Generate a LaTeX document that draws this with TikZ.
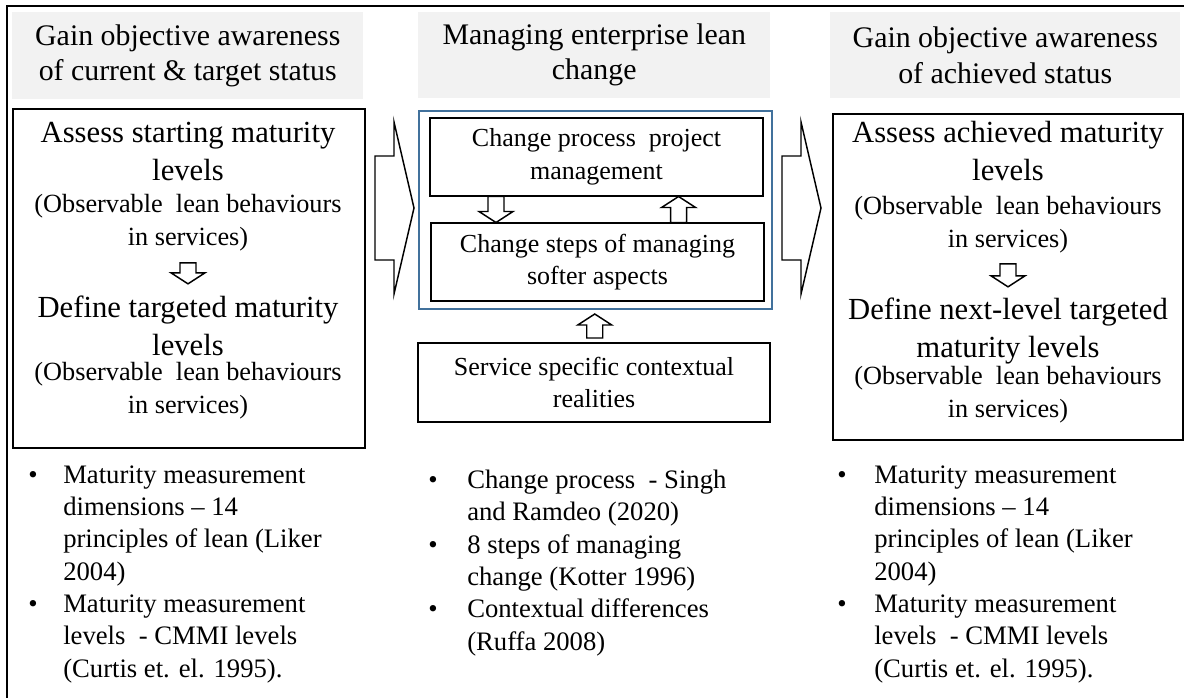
\documentclass[tikz,border=0pt]{standalone}
\usepackage{fontspec}
\setmainfont{Liberation Serif}
\usetikzlibrary{calc}
\usetikzlibrary{positioning}

\definecolor{hdrgray}{HTML}{F2F2F2}
\definecolor{frameblue}{HTML}{41719C}

\newcommand{\hdrfont}{\fontsize{22.4}{26.3}\selectfont}
\newcommand{\bigfont}{\fontsize{23}{28}\selectfont}
\newcommand{\subfont}{\fontsize{19.7}{24.2}\selectfont}
\newcommand{\midfont}{\fontsize{19.5}{24.5}\selectfont}
\newcommand{\lstfont}{\fontsize{20}{24.2}\selectfont}
\newcommand{\bul}[1]{\makebox[#1][l]{\textbullet}}

% block arrows (centre point, length)
\newcommand{\downblk}[2]{\draw[blk] #1 ++(-8,-#2/2) -- ++(16,0) -- ++(0,#2-11) -- ++(9,0) -- ++(-17,11) -- ++(-17,-11) -- ++(9,0) -- cycle;}
\newcommand{\upblk}[2]{\draw[blk] #1 ++(-8,#2/2) -- ++(16,0) -- ++(0,-#2+11) -- ++(9,0) -- ++(-17,-11) -- ++(-17,11) -- ++(9,0) -- cycle;}
% big arrow (tail point)
\newcommand{\bigblk}[1]{\draw[blk] #1 ++(0,-52) -- ++(19,0) -- ++(0,-34) -- ++(20,86) -- ++(-20,86) -- ++(0,-34) -- ++(-19,0) -- cycle;}

\begin{document}
\begin{tikzpicture}[x=0.75pt,y=-0.75pt,
	hdr/.style={fill=hdrgray, anchor=north west, inner sep=0pt, align=center, font=\hdrfont},
	box/.style={draw, line width=1.5pt, anchor=north west, inner sep=0pt},
	txt/.style={align=center, inner sep=0pt, anchor=base},
	blk/.style={draw, line width=1.1pt, fill=white, line join=miter},
	lst/.style={align=left, inner sep=0pt, anchor=base west, font=\lstfont}]
	
	\useasboundingbox (0,0) rectangle (1184,697);
	\clip (0,0) rectangle (1184,697);
	
	% outer frame
	\draw[line width=1.5pt] (7,6) rectangle (1210,720);
	
	% headers
	\node[hdr, minimum width=263.25pt, minimum height=65.25pt] (lhdr) at (12,12) {Gain objective awareness\\of current \& target status};
	\node[hdr, minimum width=264pt, minimum height=64.5pt] (mhdr) at (418,12) {Managing enterprise lean\\change};
	\node[hdr, minimum width=262.5pt, minimum height=64.5pt] (rhdr) at (830,12) {Gain objective awareness\\of achieved status};
	
	% left box (text nodes sit on their last baseline)
	\node[box, minimum width=264pt, minimum height=254.25pt] (lbox) at (12,108) {};
	\node[txt, font=\bigfont] (la1) at (188,180) {Assess starting maturity\\levels};
	\node[txt, font=\subfont] (la2) at (188,245) {(Observable\ \ lean behaviours\\in services)};
	\node[txt, font=\bigfont] (ld1) at (188,355) {Define targeted maturity\\levels};
	\node[txt, font=\subfont] (ld2) at (188,413) {(Observable\ \ lean behaviours\\in services)};
	\downblk{($(la2.south)!0.5!(ld1.north)$)}{21}
	
	% middle part
	\node[box, draw=frameblue, line width=1.5pt, minimum width=264.75pt, minimum height=148.5pt] (mblue) at (418,110) {};
	\node[box, minimum width=249.75pt, minimum height=58.5pt, align=center, font=\midfont] (mb1) at (429,117) {Change process\ \ project\\management};
	\node[box, minimum width=249.75pt, minimum height=58.5pt, align=center, font=\midfont] (mb2) at (430,222) {Change steps of managing\\softer aspects};
	\node[box, minimum width=264pt, minimum height=59.25pt, align=center, font=\midfont] (svc) at (417,342) {Service specific contextual\\realities};
	
	\coordinate (d1) at ($(mb1.south west)!0.2!(mb1.south east)$);
	\coordinate (u1) at ($(mb1.south west)!0.745!(mb1.south east)$);
	\downblk{($(d1)!0.5!(d1 |- mb2.north)$)}{26}
	\upblk{($(u1)!0.5!(u1 |- mb2.north)$)}{26}
	\upblk{($(mblue.south)!0.5!(svc.north)$)}{24}
	
	% right box
	\node[box, minimum width=262.5pt, minimum height=244.5pt] (rbox) at (832,113) {};
	\node[txt, font=\bigfont] (ra1) at (1008,180) {Assess achieved maturity\\levels};
	\node[txt, font=\subfont] (ra2) at (1008,247) {(Observable\ \ lean behaviours\\in services)};
	\node[txt, font=\bigfont] (rd1) at (1008,357) {Define next-level targeted\\maturity levels};
	\node[txt, font=\subfont] (rd2) at (1008,417) {(Observable\ \ lean behaviours\\in services)};
	\downblk{($(ra2.south)!0.5!(rd1.north)$)}{23}
	
	% big arrows between the parts
	\coordinate (t1) at ($(lbox.east |- mblue.west)+(9,-2)$);
	\coordinate (t2) at ($(mblue.east)+(9,-2)$);
	\bigblk{(t1)}
	\bigblk{(t2)}
	
	% lists of sources
	\node[lst] (llst) at (28,677) {\bul{26.25pt}Maturity measurement\\\hspace*{26.25pt}dimensions\ -- 14\\\hspace*{26.25pt}principles of lean (Liker\\\hspace*{26.25pt}2004)\\\bul{26.25pt}Maturity measurement\\\hspace*{26.25pt}levels\ \ - CMMI levels\\\hspace*{26.25pt}(Curtis et. el. 1995).};
	\node[lst] (mlst) at (428,650) {\bul{29.25pt}Change process\ \ - Singh\\\hspace*{29.25pt}and Ramdeo (2020)\\\bul{29.25pt}8 steps of managing\\\hspace*{29.25pt}change (Kotter 1996)\\\bul{29.25pt}Contextual differences\\\hspace*{29.25pt}(Ruffa 2008)};
	\node[lst] (rlst) at (837,677) {\bul{27.75pt}Maturity measurement\\\hspace*{27.75pt}dimensions\ -- 14\\\hspace*{27.75pt}principles of lean (Liker\\\hspace*{27.75pt}2004)\\\bul{27.75pt}Maturity measurement\\\hspace*{27.75pt}levels\ \ - CMMI levels\\\hspace*{27.75pt}(Curtis et. el. 1995).};
\end{tikzpicture}
\end{document}
